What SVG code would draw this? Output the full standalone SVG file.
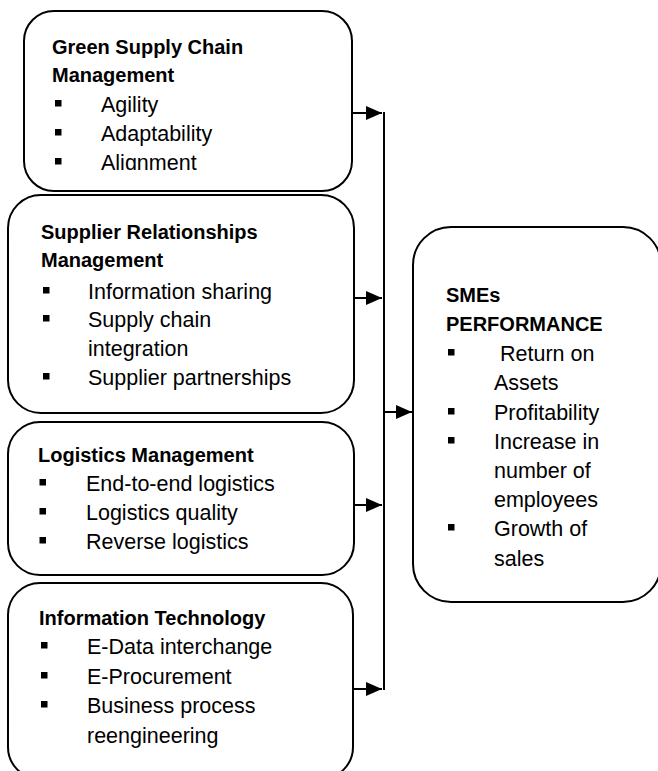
<svg xmlns="http://www.w3.org/2000/svg" width="658" height="771" viewBox="0 0 658 771">
<style>
.box{fill:#fff;stroke:#000;stroke-width:2}
.t{font-family:"Liberation Sans",Arial,sans-serif;font-size:20px;font-weight:bold;fill:#000}
.i{font-family:"Liberation Sans",Arial,sans-serif;font-size:21.5px;fill:#000}
.b{fill:#000}
.c{stroke:#000;stroke-width:2;fill:none}
</style>
<defs>
<marker id="ah" markerUnits="userSpaceOnUse" markerWidth="16" markerHeight="14" refX="16" refY="7" orient="auto">
<path d="M0,0 L16,7 L0,14 Z" fill="#000"/>
</marker>
<clipPath id="clip1"><rect x="0" y="0" width="400" height="170"/></clipPath>
</defs>
<rect width="658" height="771" fill="#fff"/>
<g id="gscm">
<rect class="box" x="24" y="11" width="328" height="180" rx="30"/>
<text class="t" x="52" y="54">Green Supply Chain</text>
<text class="t" x="52" y="82">Management</text>
<rect class="b" x="55" y="100" width="6.5" height="6.5"/>
<text class="i" x="101" y="112">Agility</text>
<rect class="b" x="55" y="129" width="6.5" height="6.5"/>
<text class="i" x="101" y="141">Adaptability</text>
<g clip-path="url(#clip1)">
<rect class="b" x="55" y="158" width="6.5" height="6.5"/>
<text class="i" x="101" y="170">Alignment</text>
</g>
</g>
<g id="srm">
<rect class="box" x="8" y="195" width="346" height="218" rx="33"/>
<text class="t" x="41" y="239">Supplier Relationships</text>
<text class="t" x="41" y="267">Management</text>
<rect class="b" x="43" y="287" width="6.5" height="6.5"/>
<text class="i" x="88" y="299">Information sharing</text>
<rect class="b" x="43" y="315" width="6.5" height="6.5"/>
<text class="i" x="88" y="327">Supply chain</text>
<text class="i" x="88" y="356">integration</text>
<rect class="b" x="43" y="373" width="6.5" height="6.5"/>
<text class="i" x="88" y="385">Supplier partnerships</text>
</g>
<g id="lm">
<rect class="box" x="8" y="422" width="346" height="153" rx="32"/>
<text class="t" x="38" y="462">Logistics Management</text>
<rect class="b" x="39.5" y="479" width="6.5" height="6.5"/>
<text class="i" x="86" y="491">End-to-end logistics</text>
<rect class="b" x="39.5" y="508" width="6.5" height="6.5"/>
<text class="i" x="86" y="520">Logistics quality</text>
<rect class="b" x="39.5" y="537" width="6.5" height="6.5"/>
<text class="i" x="86" y="549">Reverse logistics</text>
</g>
<g id="it">
<rect class="box" x="8" y="583" width="345" height="196" rx="32"/>
<text class="t" x="39" y="625">Information Technology</text>
<rect class="b" x="41" y="642" width="6.5" height="6.5"/>
<text class="i" x="87" y="654">E-Data interchange</text>
<rect class="b" x="41" y="672" width="6.5" height="6.5"/>
<text class="i" x="87" y="684">E-Procurement</text>
<rect class="b" x="41" y="701" width="6.5" height="6.5"/>
<text class="i" x="87" y="713">Business process</text>
<text class="i" x="87" y="743">reengineering</text>
</g>
<g id="sme">
<rect class="box" x="413" y="227" width="248" height="375" rx="38"/>
<text class="t" x="446" y="302">SMEs</text>
<text class="t" x="446" y="331">PERFORMANCE</text>
<rect class="b" x="448" y="349" width="6.5" height="6.5"/>
<text class="i" x="500" y="361">Return on</text>
<text class="i" x="494" y="390">Assets</text>
<rect class="b" x="448" y="408" width="6.5" height="6.5"/>
<text class="i" x="494" y="420">Profitability</text>
<rect class="b" x="448" y="437" width="6.5" height="6.5"/>
<text class="i" x="494" y="449">Increase in</text>
<text class="i" x="494" y="478">number of</text>
<text class="i" x="494" y="507">employees</text>
<rect class="b" x="448" y="524" width="6.5" height="6.5"/>
<text class="i" x="494" y="536">Growth of</text>
<text class="i" x="494" y="566">sales</text>
</g>
<g id="connectors">
<line class="c" x1="384" y1="112" x2="384" y2="690"/>
<line class="c" x1="352" y1="113" x2="382" y2="113" marker-end="url(#ah)"/>
<line class="c" x1="354" y1="298" x2="382" y2="298" marker-end="url(#ah)"/>
<line class="c" x1="354" y1="505" x2="382" y2="505" marker-end="url(#ah)"/>
<line class="c" x1="353" y1="689" x2="382" y2="689" marker-end="url(#ah)"/>
<line class="c" x1="384" y1="412" x2="412" y2="412" marker-end="url(#ah)"/>
</g>
</svg>
